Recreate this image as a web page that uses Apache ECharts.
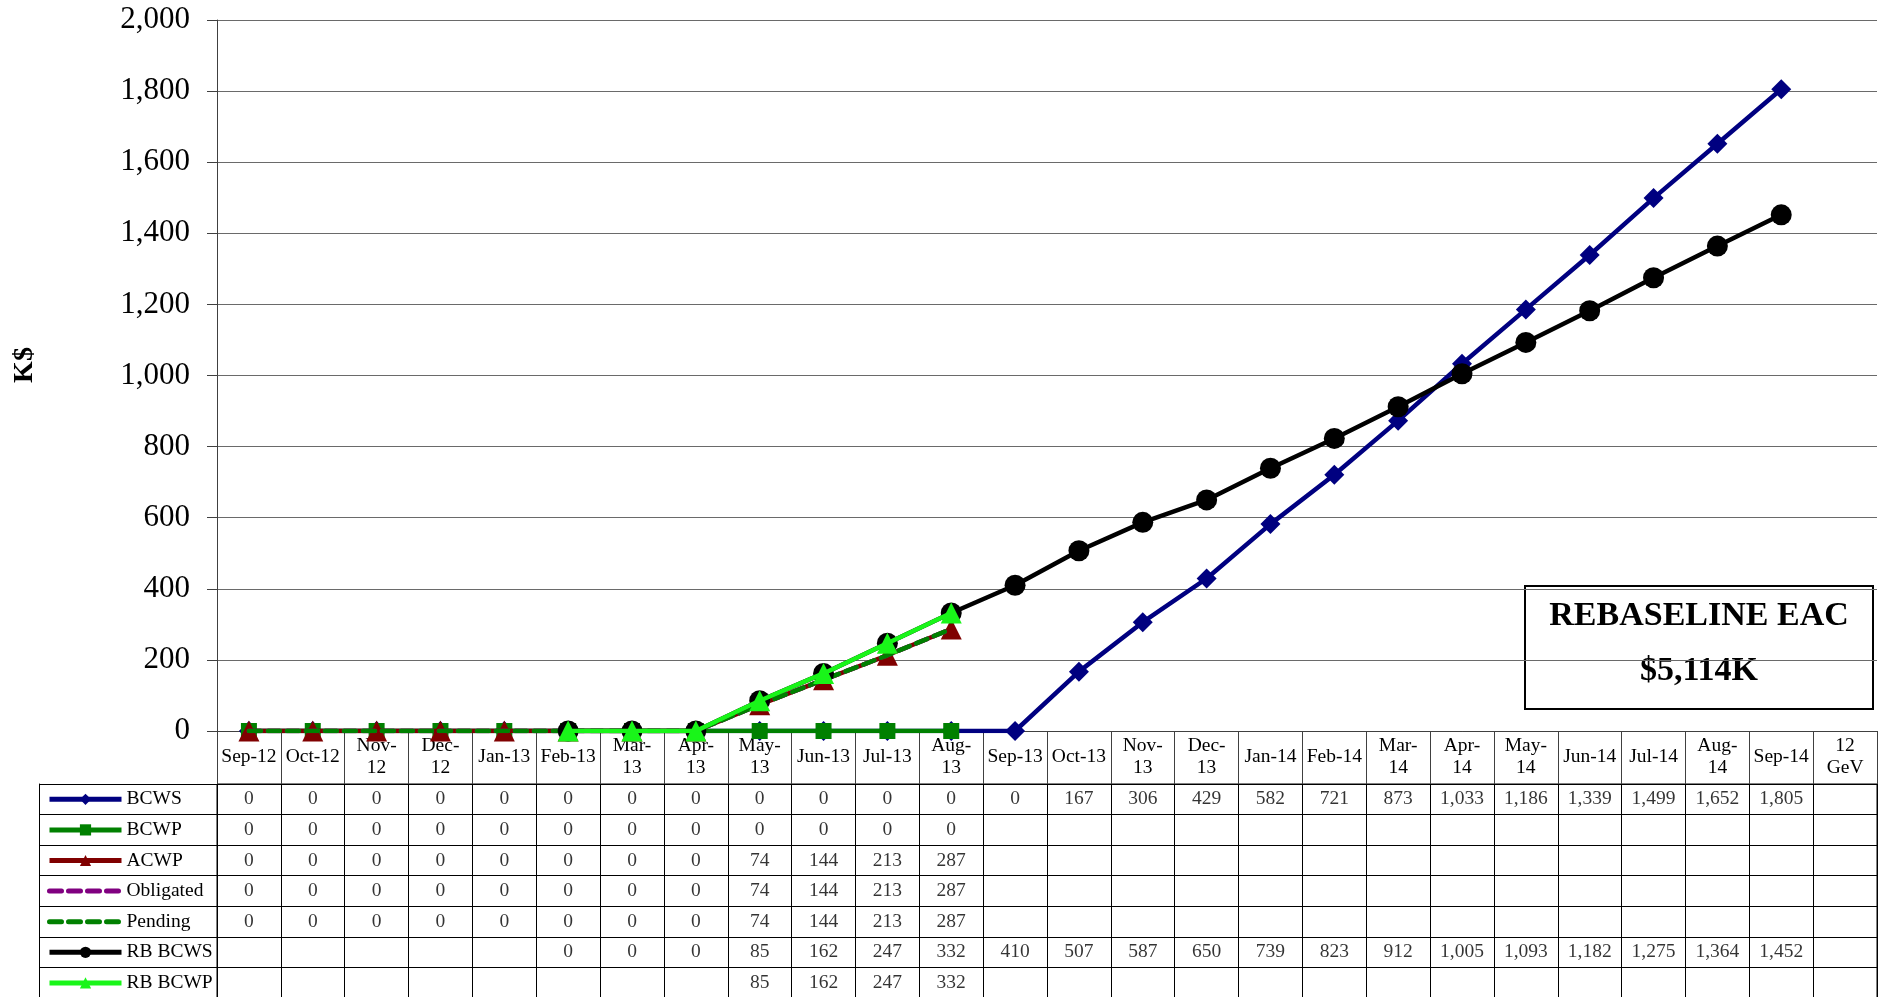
<!DOCTYPE html>
<html>
<head>
<meta charset="utf-8">
<script src="https://cdn.jsdelivr.net/npm/echarts@6/dist/echarts.min.js"></script>
<style>
html,body{margin:0;padding:0;background:#fff;}
#chart{width:1884px;height:997px;}
</style>
</head>
<body>
<div id="chart"></div>
<script>
// ---- DATA ----
const categories = ['Sep-12','Oct-12','Nov-\n12','Dec-\n12','Jan-13','Feb-13','Mar-\n13','Apr-\n13','May-\n13','Jun-13','Jul-13','Aug-\n13','Sep-13','Oct-13','Nov-\n13','Dec-\n13','Jan-14','Feb-14','Mar-\n14','Apr-\n14','May-\n14','Jun-14','Jul-14','Aug-\n14','Sep-14','12\nGeV'];
const bcws      = [0,0,0,0,0,0,0,0,0,0,0,0,0,167,306,429,582,721,873,1033,1186,1339,1499,1652,1805,null];
const bcwp      = [0,0,0,0,0,0,0,0,0,0,0,0,null,null,null,null,null,null,null,null,null,null,null,null,null,null];
const acwp      = [0,0,0,0,0,0,0,0,74,144,213,287,null,null,null,null,null,null,null,null,null,null,null,null,null,null];
const obligated = [0,0,0,0,0,0,0,0,74,144,213,287,null,null,null,null,null,null,null,null,null,null,null,null,null,null];
const pending   = [0,0,0,0,0,0,0,0,74,144,213,287,null,null,null,null,null,null,null,null,null,null,null,null,null,null];
const rbBcws    = [null,null,null,null,null,0,0,0,85,162,247,332,410,507,587,650,739,823,912,1005,1093,1182,1275,1364,1452,null];
const rbBcwp    = [null,null,null,null,null,0,0,0,85,162,247,332,null,null,null,null,null,null,null,null,null,null,null,null,null,null];
const rbBcwpTableFrom = 8; // table shows RB BCWP values from May-13 on
const yTicks = {min:0, max:2000, interval:200};
const yTitle = 'K$';
const eacText = ['REBASELINE EAC', '$5,114K'];

const FONT = "'Liberation Serif','Times New Roman',serif";
const TFS = 19.5;
const rows = [
  {name:'BCWS', data:bcws, color:'#000080', symbol:'diamond', size:20},
  {name:'BCWP', data:bcwp, color:'#008000', symbol:'rect', size:16},
  {name:'ACWP', data:acwp, color:'#800000', symbol:'triangle', size:21},
  {name:'Obligated', data:obligated, color:'#800080', dash:true},
  {name:'Pending', data:pending, color:'#008000', dash:true},
  {name:'RB BCWS', data:rbBcws, color:'#000000', symbol:'circle', size:21},
  {name:'RB BCWP', data:rbBcwp, color:'#19F519', symbol:'triangle', size:21, from:rbBcwpTableFrom}
];
const rowNames = rows.map(r => r.name);
const fmt = v => v.toLocaleString('en-US');

const chart = echarts.init(document.getElementById('chart'));

const lineSeries = rows.map((r, i) => ({
  name: r.name,
  type: 'line',
  xAxisIndex: 0, yAxisIndex: 0,
  data: r.data,
  symbol: r.dash ? 'none' : r.symbol,
  symbolSize: r.size || 0,
  showSymbol: !r.dash,
  connectNulls: false,
  lineStyle: {color: r.color, width: 4.5, type: r.dash ? [12, 7] : 'solid', cap: r.dash ? 'round' : 'butt'},
  itemStyle: {color: r.color},
  animation: false,
  z: 3 + i
}));

const tableData = [];
rows.forEach((r, ri) => {
  r.data.forEach((v, ci) => {
    if (v !== null && ci >= (r.from || 0)) tableData.push([ci, ri, v]);
  });
});

const legendData = rows.map(r => r.dash
  ? {name: r.name, itemStyle: {opacity: 0}}
  : {name: r.name});

const option = {
  animation: false,
  textStyle: {fontFamily: FONT, color: '#000'},
  grid: [
    {left: 217, right: 7, top: 20, bottom: 266, containLabel: false, outerBoundsMode: 'none'},
    {left: 217, right: 7, top: 784, height: 214, show: true, borderColor: '#000', borderWidth: 1, containLabel: false, outerBoundsMode: 'none'}
  ],
  legend: {
    orient: 'vertical',
    left: 47, top: 784,
    height: 300,
    padding: 0,
    itemGap: 0,
    itemWidth: 72, itemHeight: 14,
    data: legendData,
    selectedMode: false,
    lineStyle: {width: 5},
    textStyle: {fontFamily: FONT, fontSize: TFS, color: '#000', lineHeight: 30.6}
  },
  xAxis: [
    {
      gridIndex: 0, type: 'category', data: categories, boundaryGap: true,
      axisLine: {show: true, lineStyle: {color: '#404040', width: 1}},
      axisTick: {show: true, interval: 0, length: 53, alignWithLabel: false, lineStyle: {color: '#404040', width: 1}},
      axisLabel: {interval: 0, fontFamily: FONT, fontSize: TFS, color: '#000', lineHeight: 21.5, verticalAlign: 'middle', margin: 26},
      splitLine: {show: false}
    },
    {
      gridIndex: 1, type: 'category', data: categories, boundaryGap: true,
      axisLine: {show: false}, axisTick: {show: false}, axisLabel: {show: false},
      splitLine: {show: true, interval: 0, lineStyle: {color: '#000', width: 1}}
    }
  ],
  yAxis: [
    {
      gridIndex: 0, type: 'value', min: yTicks.min, max: yTicks.max, interval: yTicks.interval,
      axisLine: {show: true, lineStyle: {color: '#404040', width: 1}},
      axisTick: {show: true, length: 10, lineStyle: {color: '#404040'}},
      axisLabel: {fontFamily: FONT, fontSize: 31, color: '#000', margin: 27, formatter: v => fmt(v)},
      splitLine: {show: true, lineStyle: {color: '#6a6a6a', width: 1}}
    },
    {
      gridIndex: 1, type: 'category', data: rowNames, inverse: true,
      axisLine: {show: true, lineStyle: {color: '#000'}},
      axisTick: {show: true, interval: 0, length: 178, alignWithLabel: false, lineStyle: {color: '#000'}},
      axisLabel: {show: false},
      splitLine: {show: true, interval: 0, lineStyle: {color: '#000', width: 1}}
    },
    {
      gridIndex: 1, type: 'category', data: rowNames, inverse: true, position: 'left', offset: 178,
      axisLine: {show: true, lineStyle: {color: '#000'}},
      axisTick: {show: false}, axisLabel: {show: false}, splitLine: {show: false}
    }
  ],
  series: lineSeries.concat([{
    name: 'table',
    type: 'scatter',
    xAxisIndex: 1, yAxisIndex: 1,
    data: tableData,
    symbolSize: 1,
    itemStyle: {color: 'rgba(0,0,0,0)'},
    silent: true,
    label: {
      show: true, position: 'inside', color: '#000', fontFamily: FONT, fontSize: TFS,
      formatter: p => fmt(p.value[2])
    }
  }]),
  graphic: [
    {
      type: 'text', x: 25, y: 365, rotation: Math.PI / 2,
      style: {text: yTitle, fontFamily: FONT, fontSize: 28, fontWeight: 'bold', fill: '#000', align: 'center', verticalAlign: 'middle'}
    },
    {
      type: 'group',
      left: 1524, top: 585,
      children: [
        {type: 'rect', shape: {x: 0, y: 0, width: 348, height: 123}, style: {fill: '#fff', stroke: '#000', lineWidth: 2}},
        {type: 'text', x: 174, y: 30, style: {text: eacText[0], fontFamily: FONT, fontSize: 34, fontWeight: 'bold', fill: '#000', align: 'center', verticalAlign: 'middle'}},
        {type: 'text', x: 174, y: 85, style: {text: eacText[1], fontFamily: FONT, fontSize: 34, fontWeight: 'bold', fill: '#000', align: 'center', verticalAlign: 'middle'}}
      ]
    }
  ]
};
chart.setOption(option);
</script>
</body>
</html>
